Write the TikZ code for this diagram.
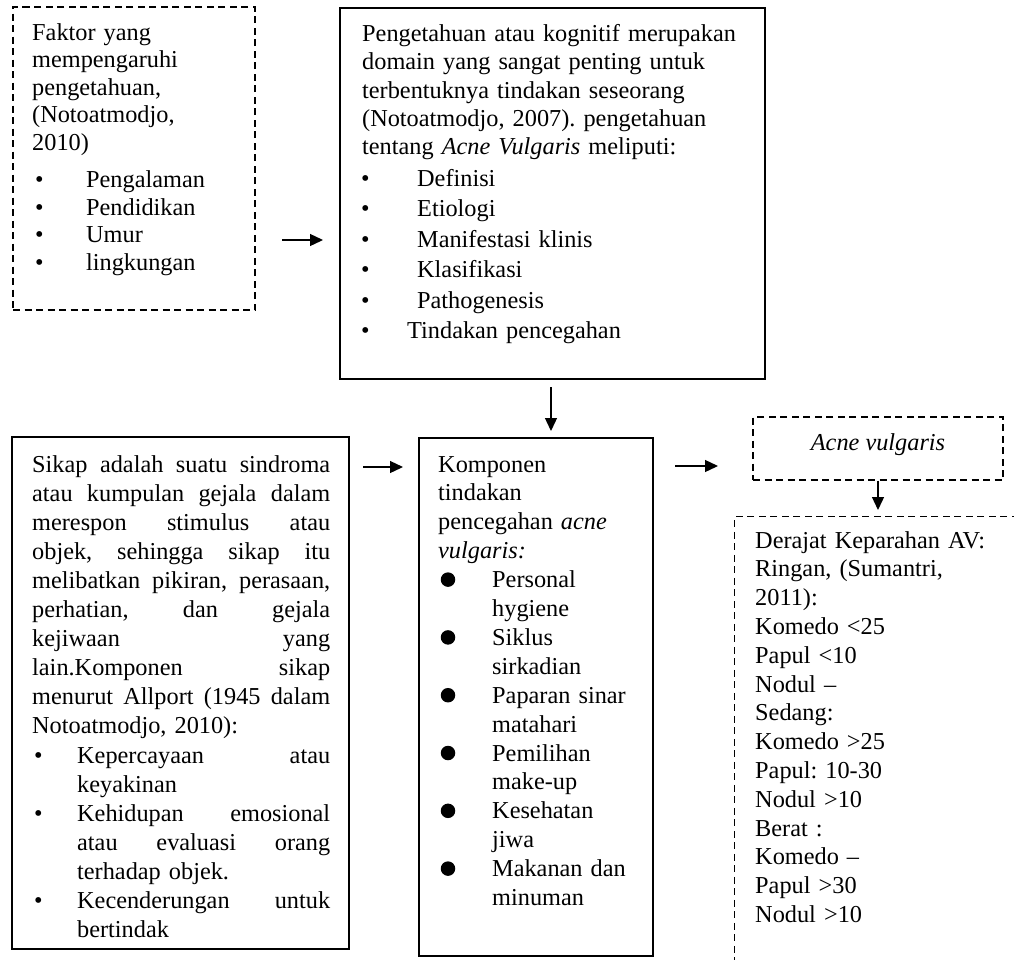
\documentclass[tikz,border=0pt]{standalone}
\usepackage{fontspec}
\setmainfont{Liberation Serif}
\usetikzlibrary{arrows.meta,fit}
\newcommand\Jl[1]{\makebox[298pt][s]{\spaceskip=0pt\relax\xspaceskip=0pt\relax #1}}
\newcommand\aB[1]{\makebox[54pt][l]{\hspace{2.8pt}\textbullet}#1}
\newcommand\bB[1]{\makebox[55pt][l]{\hspace{-1pt}\textbullet}#1}
\newcommand\cB[1]{\makebox[45pt][l]{\hspace{1.8pt}\textbullet}\makebox[253pt][s]{\spaceskip=0pt\relax\xspaceskip=0pt\relax #1}}
\begin{document}
\begin{tikzpicture}[x=1pt,y=-1pt,
  box/.style={draw, line width=1.5pt, inner sep=0pt},
  dbox/.style={draw, line width=1.3pt, dash pattern=on 7pt off 4.5pt, inner sep=0pt},
  arr/.style={line width=1.3pt, -{Triangle[length=13pt,width=12pt]}},
  txt/.style={inner sep=0pt, anchor=base west, align=left},
  fs/.style={font=\fontsize{24.3}{#1}\selectfont\frenchspacing},
  bigdot/.style={circle, fill, inner sep=0pt, minimum size=14.5pt}
]
\useasboundingbox (0,0) rectangle (1014,959);
\fill[white] (0,0) rectangle (1014,959);

% boxes
\node[dbox, fit={(13,7) (255,310)}] (A) {};
\node[box, fit={(340,8) (765,379)}] (B) {};
\node[box, fit={(12,437) (349,949)}] (C) {};
\node[box, fit={(419,438) (653,956)}] (D) {};
\node[dbox, fit={(753,417) (1003,480)}] (E) {};
\node[inner sep=0pt, fit={(735,517) (1030,975)}] (F) {};
\draw[dbox] (F.north east) -- (F.north west) -- (F.south west);

% texts
\node[txt, fs=27.6, text width=225pt] (tA) at (32,40) {Faktor yang\\
mempengaruhi\\
pengetahuan,\\
(Notoatmodjo,\\
2010)\\[9.4pt]
\aB{Pengalaman}\\
\aB{Pendidikan}\\
\aB{Umur}\\
\aB{lingkungan}};

\node[txt, fs=28.25, text width=400pt] (tB) at (362,41.5) {Pengetahuan atau kognitif merupakan\\
domain yang sangat penting untuk\\
terbentuknya tindakan seseorang\\
(Notoatmodjo, 2007). pengetahuan\\
tentang \textit{Acne Vulgaris} meliputi:\\[3.75pt]
\bB{Definisi}\\[2.15pt]
\bB{Etiologi}\\[2.15pt]
\bB{Manifestasi klinis}\\[2.15pt]
\bB{Klasifikasi}\\[2.15pt]
\bB{Pathogenesis}\\[2.15pt]
\makebox[45pt][l]{\hspace{-1pt}\textbullet}Tindakan pencegahan};

\node[txt, fs=29.1, text width=300pt] (tC) at (32,472) {\Jl{Sikap adalah suatu sindroma}\\
\Jl{atau kumpulan gejala dalam}\\
\Jl{merespon stimulus atau}\\
\Jl{objek, sehingga sikap itu}\\
\Jl{melibatkan pikiran, perasaan,}\\
\Jl{perhatian, dan gejala}\\
\Jl{kejiwaan yang}\\
\Jl{lain.Komponen sikap}\\
\Jl{menurut Allport (1945 dalam}\\
Notoatmodjo, 2010):\\
\cB{Kepercayaan atau}\\
\hspace*{45pt}keyakinan\\
\cB{Kehidupan emosional}\\
\hspace*{45pt}\makebox[253pt][s]{\spaceskip=0pt\relax\xspaceskip=0pt\relax atau evaluasi orang}\\
\hspace*{45pt}terhadap objek.\\
\cB{Kecenderungan untuk}\\
\hspace*{45pt}bertindak};

\node[txt, fs=28.9, text width=212pt] (tD) at (438,472) {Komponen\\
tindakan\\
pencegahan \textit{acne}\\
\textit{vulgaris:}\\
\hspace*{54pt}Personal\\
\hspace*{54pt}hygiene\\
\hspace*{54pt}Siklus\\
\hspace*{54pt}sirkadian\\
\hspace*{54pt}Paparan sinar\\
\hspace*{54pt}matahari\\
\hspace*{54pt}Pemilihan\\
\hspace*{54pt}make-up\\
\hspace*{54pt}Kesehatan\\
\hspace*{54pt}jiwa\\
\hspace*{54pt}Makanan dan\\
\hspace*{54pt}minuman};
\foreach \k in {0,1,2,3,4,5}
  \node[bigdot] (dot\k) at (448,{472+28.9*(4+2*\k)-8}) {};

\node[inner sep=0pt, anchor=base, font=\fontsize{24.3}{29}\selectfont\itshape] (tE) at (878,450) {Acne vulgaris};

\node[txt, fs=28.8, text width=250pt] (tF) at (755,548) {Derajat Keparahan AV:\\
Ringan, (Sumantri,\\
2011):\\
Komedo <25\\
Papul <10\\
Nodul –\\
Sedang:\\
Komedo >25\\
Papul: 10-30\\
Nodul >10\\
Berat :\\
Komedo –\\
Papul >30\\
Nodul >10};

% connectors
\coordinate (a1) at (282,240);
\coordinate (a2) at (323,240);
\draw[arr] (a1) -- (a2);
\coordinate (b1) at (551,387);
\coordinate (b2) at (551,431);
\draw[arr] (b1) -- (b2);
\coordinate (c1) at (363,467);
\coordinate (c2) at (403,467);
\draw[arr] (c1) -- (c2);
\coordinate (d1) at (675,466);
\coordinate (d2) at (718,466);
\draw[arr] (d1) -- (d2);
\coordinate (f1) at (878,510);
\draw[arr] (E.south) -- (f1);
\end{tikzpicture}
\end{document}
